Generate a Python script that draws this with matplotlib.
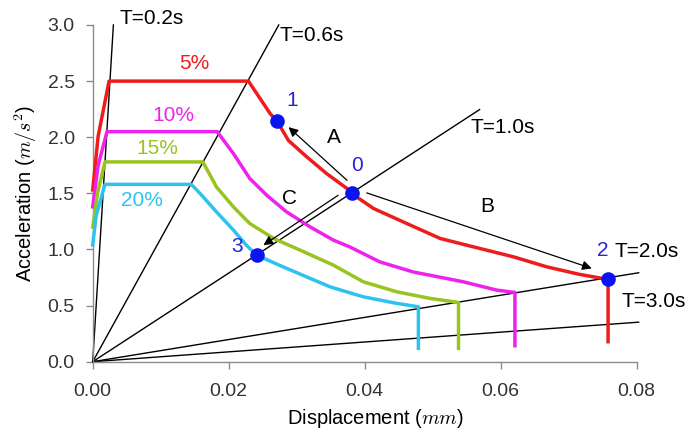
import numpy as np
import matplotlib.pyplot as plt

plt.rcParams['font.family'] = ['Liberation Sans', 'DejaVu Sans']
plt.rcParams['mathtext.fontset'] = 'cm'

# capacity / demand curves, one per damping ratio (displacement in m, accel in m/s2)
d5 = [0.0, 0.0008, 0.0024, 0.0229, 0.0261, 0.0271, 0.0288, 0.0315, 0.0344, 0.0374, 0.0381,
      0.0413, 0.0462, 0.0511, 0.0560, 0.0619, 0.0668, 0.0716, 0.0758, 0.0758]
a5 = [1.53, 2.01, 2.50, 2.50, 2.21, 2.144, 1.97, 1.824, 1.676, 1.543, 1.498,
      1.365, 1.231, 1.098, 1.023, 0.934, 0.845, 0.778, 0.733, 0.178]

d10 = [0.0, 0.0008, 0.0021, 0.0183, 0.0207, 0.0231, 0.0256, 0.0285, 0.0320, 0.0354,
       0.0378, 0.0422, 0.0471, 0.0545, 0.0594, 0.0621, 0.0621]
a10 = [1.38, 1.75, 2.050, 2.050, 1.854, 1.632, 1.483, 1.335, 1.20, 1.083,
       1.023, 0.89, 0.80, 0.712, 0.638, 0.617, 0.142]

d15 = [0.0, 0.0007, 0.0018, 0.0162, 0.0182, 0.0207, 0.0231, 0.0266, 0.0305, 0.0354,
       0.0398, 0.0447, 0.0496, 0.0538, 0.0538]
a15 = [1.20, 1.50, 1.78, 1.78, 1.557, 1.379, 1.231, 1.098, 0.994, 0.86,
       0.712, 0.623, 0.564, 0.528, 0.119]

d20 = [0.0, 0.0005, 0.0018, 0.0145, 0.0158, 0.0182, 0.0207, 0.0226, 0.0241, 0.0280,
       0.0349, 0.0398, 0.0447, 0.0479, 0.0479]
a20 = [1.04, 1.30, 1.58, 1.58, 1.498, 1.335, 1.172, 1.038, 0.949, 0.845,
       0.667, 0.578, 0.52, 0.489, 0.119]

curve_labels = ["5%", "10%", "15%", "20%"]
curve_colors = ["#ee1c1c", "#ee22ee", "#99c31f", "#2ec3ef"]
label_pos = [(0.0149, 2.655), (0.0119, 2.195), (0.0095, 1.90), (0.0073, 1.44)]

# constant-period lines, Sa = (2*pi/T)^2 * Sd
periods = [0.2, 0.6, 1.0, 2.0, 3.0]
period_end_d = [0.00304, 0.02736, 0.0569, 0.0803, 0.0803]
period_label_pos = [(0.0040, 3.06), (0.0274, 2.91), (0.0555, 2.09), (0.0768, 0.978), (0.0777, 0.534)]

# performance points
pt_names = ["0", "1", "2", "3"]
pt_d = [0.0381, 0.0271, 0.0758, 0.0241]
pt_a = [1.500, 2.144, 0.733, 0.949]
pt_label_pos = [(0.0389, 1.75), (0.0293, 2.33), (0.0750, 0.994), (0.0213, 1.023)]

# arrows A, B, C (start -> end)
arrow_names = ["A", "B", "C"]
arrow_start = [(0.0374, 1.616), (0.0403, 1.504), (0.0361, 1.483)]
arrow_end = [(0.0288, 2.09), (0.0734, 0.831), (0.0251, 1.038)]
arrow_label_pos = [(0.0354, 2.00), (0.0580, 1.38), (0.0290, 1.454)]

fig = plt.figure(figsize=(6.92, 4.34), dpi=100)
ax = fig.add_axes([0.134, 0.1666, 0.786, 0.7758])

for T, dend, (lx, ly) in zip(periods, period_end_d, period_label_pos):
    w2 = (2 * np.pi / T) ** 2
    ax.plot([0, dend], [0, w2 * dend], color='black', lw=1.0, clip_on=False, zorder=2)
    ax.text(lx, ly, f"T={T:.1f}s", fontsize=15, color='black', ha='left', va='center')

for d, a, c, lab, (lx, ly) in zip([d5, d10, d15, d20], [a5, a10, a15, a20],
                                  curve_colors, curve_labels, label_pos):
    ax.plot(d, a, color=c, lw=2.5, solid_joinstyle='round', zorder=3, clip_on=False)
    ax.text(lx, ly, lab, color=c, fontsize=15, ha='center', va='center')

for (x0, y0), (x1, y1), name, (lx, ly) in zip(arrow_start, arrow_end, arrow_names, arrow_label_pos):
    ax.annotate("", xy=(x1, y1), xytext=(x0, y0),
                arrowprops=dict(arrowstyle='-|>', color='black', lw=0.9,
                                mutation_scale=14, shrinkA=0, shrinkB=0), zorder=4)
    ax.text(lx, ly, name, fontsize=15, ha='center', va='center')

ax.plot(pt_d, pt_a, 'o', color='#0a14f0', ms=9.5, zorder=5, clip_on=False)
for name, (lx, ly) in zip(pt_names, pt_label_pos):
    ax.text(lx, ly, name, color='#2626d9', fontsize=15, ha='center', va='center')

ax.set_xlim(0, 0.08)
ax.set_ylim(0, 3.0)
ax.set_xticks([0.0, 0.02, 0.04, 0.06, 0.08])
ax.set_xticklabels(["0.00", "0.02", "0.04", "0.06", "0.08"])
ax.set_yticks([0.0, 0.5, 1.0, 1.5, 2.0, 2.5, 3.0])
ax.set_yticklabels(["0.0", "0.5", "1.0", "1.5", "2.0", "2.5", "3.0"])
for s in ['top', 'right']:
    ax.spines[s].set_visible(False)
for s in ['left', 'bottom']:
    ax.spines[s].set_color('#8c8c8c')
    ax.spines[s].set_linewidth(1.0)
ax.tick_params(colors='#8c8c8c', labelcolor='#333333', labelsize=14, length=5, width=1.0)
ax.tick_params(axis='x', pad=10)
ax.tick_params(axis='y', pad=8)
ax.set_xlabel("Displacement ($mm$)", fontsize=14.5, labelpad=6)
ax.xaxis.set_label_coords(0.52, -0.135)
ax.set_ylabel("Acceleration ($m/s^2$)", fontsize=14.5, labelpad=6)

fig.savefig("out.png", dpi=100)
